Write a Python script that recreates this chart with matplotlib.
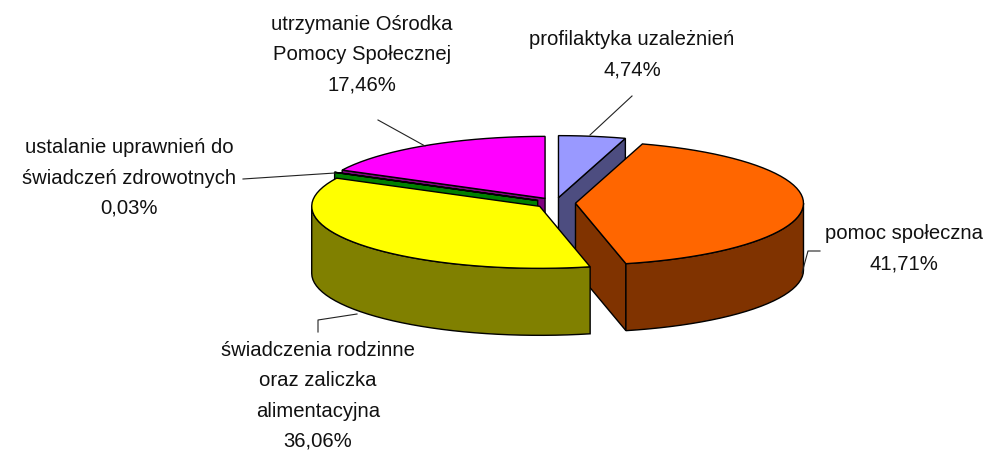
import numpy as np
import matplotlib
matplotlib.use("Agg")
import matplotlib.pyplot as plt

categories = ["profilaktyka uzależnień", "pomoc społeczna",
              "świadczenia rodzinne\noraz zaliczka\nalimentacyjna",
              "ustalanie uprawnień do\nświadczeń zdrowotnych",
              "utrzymanie Ośrodka\nPomocy Społecznej"]
values = [4.74, 41.71, 36.06, 0.03, 17.46]
top_colors = ["#9999FF", "#FF6600", "#FFFF00", "#00FF00", "#FF00FF"]
side_colors = ["#4D4D80", "#803300", "#808000", "#008000", "#800080"]
draw_order = [0, 4, 3, 1, 2]
label_xy = [(632, 55), (904, 249), (318, 396), (129, 178), (362, 55)]
leaders = [[(632, 96), (590, 135)],
           [(820, 251), (808, 251), (802, 273)],
           [(318, 332), (318, 320), (357, 314)],
           [(243, 179), (335, 173)],
           [(378, 120), (425, 146)]]

CX, CY, RX, RY, DEPTH, EXPLODE = 555.5, 203, 228, 62, 67, 20
LW = 1.0

fig = plt.figure(figsize=(9.85, 4.5), dpi=100)
ax = fig.add_axes([0, 0, 1, 1])
ax.set_xlim(0, 985)
ax.set_ylim(450, 0)
ax.axis("off")

cum = np.concatenate([[0], np.cumsum(values)]) / np.sum(values) * 360


def pt(c, a):
    r = np.radians(a)
    return c[0] + RX * np.sin(r), c[1] - RY * np.cos(r)


for i in draw_order:
    a0, a1 = cum[i], cum[i + 1]
    mid = np.radians((a0 + a1) / 2)
    c = (CX + EXPLODE * np.sin(mid), CY - EXPLODE * RY / RX * np.cos(mid))
    arc = np.linspace(a0, a1, max(2, int((a1 - a0) / 3) + 2))
    ax_pts = np.array([pt(c, a) for a in arc])
    z = 2 * draw_order.index(i)

    def face(a):
        x, y = pt(c, a)
        ax.fill([c[0], x, x, c[0]], [c[1], y, y + DEPTH, c[1] + DEPTH],
                fc=side_colors[i], ec="black", lw=LW, zorder=z)

    if np.sin(np.radians(a0)) < -1e-6:
        face(a0)
    if np.sin(np.radians(a1)) > 1e-6:
        face(a1)
    lo, hi = max(a0, 90), min(a1, 270)
    if hi > lo:
        rim = np.linspace(lo, hi, int((hi - lo) / 3) + 2)
        p = np.array([pt(c, a) for a in rim])
        ax.fill(np.r_[p[:, 0], p[::-1, 0]], np.r_[p[:, 1], p[::-1, 1] + DEPTH],
                fc=side_colors[i], ec="black", lw=LW, zorder=z)
    ax.fill(np.r_[c[0], ax_pts[:, 0]], np.r_[c[1], ax_pts[:, 1]],
            fc=top_colors[i], ec="black", lw=LW, zorder=z + 1)

for name, v, xy, line in zip(categories, values, label_xy, leaders):
    pct = f"{v:.2f}".replace(".", ",") + "%"
    ax.text(xy[0], xy[1], f"{name}\n{pct}", ha="center", va="center",
            family="Liberation Sans", fontsize=14.6, color="#111111",
            linespacing=1.74, multialignment="center", zorder=30)
    ax.plot(*zip(*line), color="#222222", lw=0.8, zorder=29)

fig.savefig("out.png", dpi=100, facecolor="white")
